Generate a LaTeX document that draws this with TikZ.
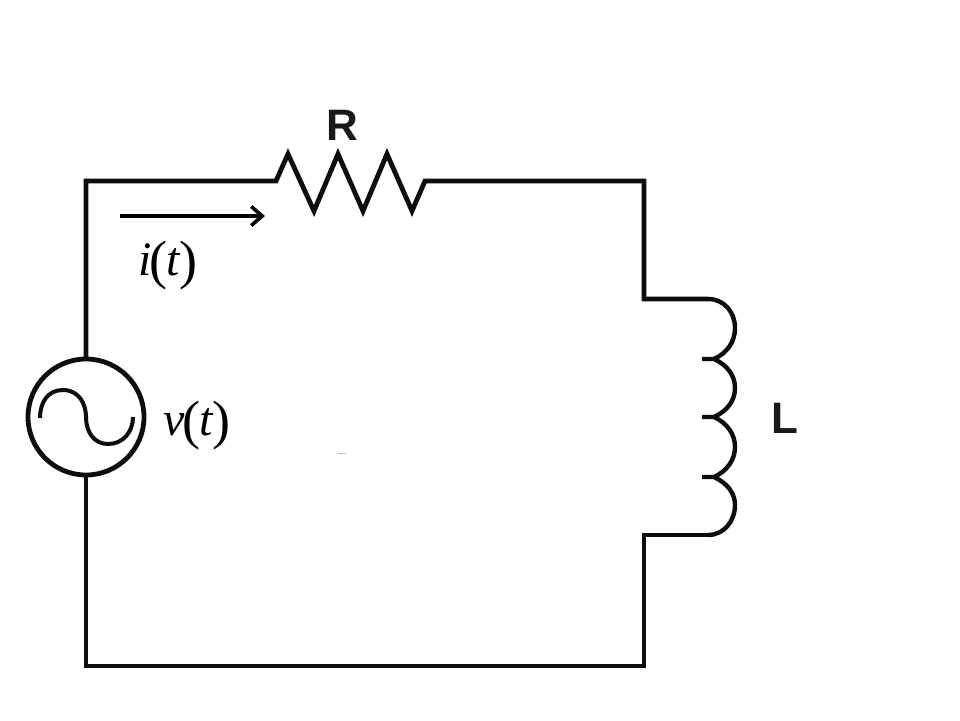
\documentclass[tikz,border=0pt]{standalone}
\usepackage{fontspec}
\setmainfont{Liberation Serif}
\setsansfont{Liberation Sans}
\usetikzlibrary{arrows.meta}
\newcommand{\bigparen}[1]{\raisebox{-3.5pt}{\fontsize{54}{54}\selectfont #1}}
\newcommand{\seriflabel}[2]{{\fontsize{48}{48}\selectfont\textit{#1}\kern-1.5pt\bigparen{(}\kern-1.5pt\textit{#2}\kern-1.5pt\bigparen{)}}}
\tikzset{
  wire/.style={line width=4.8pt,black!95,line join=miter,line cap=butt},
  coilwire/.style={line width=4.4pt,black!95,line join=round,line cap=butt},
  sinewire/.style={line width=4pt,black!95,line join=round,line cap=butt},
  label/.style={inner sep=0pt,outer sep=0pt,anchor=base west,text=black},
  bold label/.style={label,font=\sffamily\bfseries\fontsize{44}{44}\selectfont,text=black!90},
  source/.style={circle,draw,line width=4.8pt,black!95,minimum size=116pt,inner sep=0pt,outer sep=0pt}
}
\begin{document}
\begin{tikzpicture}[x=1pt,y=-1pt]
\useasboundingbox[fill=white] (0,0) rectangle (960,720);
% named points of the loop
\node[source] (V) at (86,417) {};
\coordinate (tl) at (86,181);
\coordinate (bl) at (86,666);
\coordinate (br) at (644,666);
\coordinate (tr) at (644,181);
\coordinate (rin) at (276,181);
\coordinate (rout) at (425,181);
\coordinate (lin) at (644,299);
\coordinate (lout) at (644,535);
\coordinate (lcoilin) at (708,299);
\coordinate (lcoilout) at (708,535);
\coordinate (ia) at (120,216);
\coordinate (ib) at (265,216);
% wires
\draw[wire] (V.north) -- (tl) -- (rin)
  -- (288,154) -- (314,211) -- (338,154) -- (363,211) -- (387,154) -- (412,211) -- (rout)
  -- (tr) -- (lin) -- (lcoilin);
\draw[wire] (lcoilout) -- (lout) -- (br) -- (bl) -- (V.south);
% inductor
\draw[coilwire] (lcoilin)
  .. controls (724,299) and (735,312) .. (735,328)
  .. controls (735,342) and (727,353) .. (714,359);
\draw[coilwire] (702,359) -- (714,359)
  .. controls (727,365) and (735,375) .. (735,388)
  .. controls (735,401) and (727,411) .. (714,417);
\draw[coilwire] (702,417) -- (714,417)
  .. controls (727,423) and (735,434) .. (735,447)
  .. controls (735,460) and (727,471) .. (714,477);
\draw[coilwire] (702,477) -- (714,477)
  .. controls (727,483) and (735,493) .. (735,505)
  .. controls (735,521) and (724,535) .. (lcoilout);
% sine of the source
\draw[sinewire] (40,418)
  .. controls (40,402) and (48,390) .. (63,390)
  .. controls (79,390) and (86,404) .. (86,417)
  .. controls (86,432) and (94,444) .. (108,444)
  .. controls (123,444) and (133,432) .. (133,417);
% current arrow
\draw[line width=3.6pt,black,-{Straight Barb[length=11pt,width=19pt,line width=3.6pt]}] (ia) -- (ib);
% faint speck in the middle of the picture
\draw[line width=1pt,black!25] (338,453) -- (346,453);
% labels
\node[label] (it) at (138,275) {\seriflabel{i}{t}};
\node[label] (vt) at (163,435) {\seriflabel{v}{t}};
\node[bold label] (R) at (326,140) {R};
\node[bold label] (L) at (771,433) {L};
\end{tikzpicture}
\end{document}
